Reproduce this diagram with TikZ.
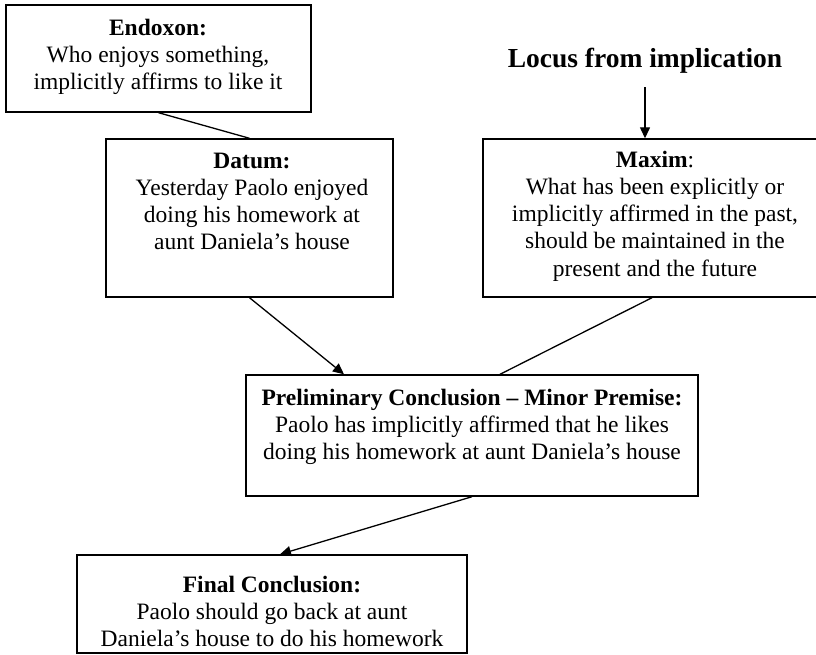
\documentclass[tikz,border=0pt]{standalone}
\usepackage{fontspec}
\setmainfont{Liberation Serif}
\usetikzlibrary{arrows.meta,calc}

\tikzset{
  box/.style={draw=black, line width=1.4pt, rectangle, inner sep=0pt},
  txt/.style={align=center, inner sep=0pt, anchor=north,
    font=\fontsize{23.5}{27.2}\selectfont},
  title/.style={inner sep=0pt, inner ysep=13pt, anchor=base,
    font=\fontsize{27.5}{30}\selectfont\bfseries},
  link/.style={draw=black, line width=1.3pt},
  arrow/.style={link, -{Triangle[length=11pt,width=10pt]}},
}
% zero-width strut that fixes the first baseline below the node top
\newcommand{\firstline}{\rule{0pt}{20pt}}

\begin{document}
\begin{tikzpicture}[x=1pt,y=-1pt]
  \useasboundingbox (0,0) rectangle (816,655);
  \clip (0,0) rectangle (816,655);

  % frames
  \node[box, minimum width=305pt, minimum height=107pt] (endoxon) at (158.5,58.5) {};
  \node[box, minimum width=287pt, minimum height=158pt] (datum) at (249.5,218) {};
  \node[box, minimum width=344pt, minimum height=158pt] (maxim) at (655,218) {};
  \node[box, minimum width=452pt, minimum height=121pt] (prelim) at (472,435.5) {};
  \node[box, minimum width=390pt, minimum height=98pt] (final) at (272,604) {};

  % texts
  \node[txt] (endoxon-t) at (158,15) {\firstline\textbf{Endoxon:}\\
    Who enjoys something,\\ implicitly affirms to like it};
  \node[txt] (datum-t) at (252,148) {\firstline\textbf{Datum:}\\
    Yesterday Paolo enjoyed\\ doing his homework at\\ aunt Daniela’s house};
  \node[txt] (maxim-t) at (655,147) {\firstline\textbf{Maxim}:\\
    What has been explicitly or\\ implicitly affirmed in the past,\\
    should be maintained in the\\ present and the future};
  \node[txt] (prelim-t) at (472,385) {\firstline\textbf{Preliminary Conclusion – Minor Premise:}\\
    Paolo has implicitly affirmed that he likes\\
    doing his homework at aunt Daniela’s house};
  \node[txt] (final-t) at (272,572) {\firstline\textbf{Final Conclusion:}\\
    Paolo should go back at aunt\\ Daniela’s house to do his homework};

  \node[title] (locus) at (645,68) {Locus from implication};

  % connectors
  \draw[link] (endoxon.south) -- (datum.north);
  \draw[arrow] (locus.south) -- (locus.south |- maxim.north);
  \draw[arrow] (datum.south) -- ([xshift=-128pt]prelim.north);
  \draw[link] ([xshift=-3pt]maxim.south) -- ([xshift=28pt]prelim.north);
  \draw[arrow] (prelim.south) -- ([xshift=8pt]final.north);
\end{tikzpicture}
\end{document}
